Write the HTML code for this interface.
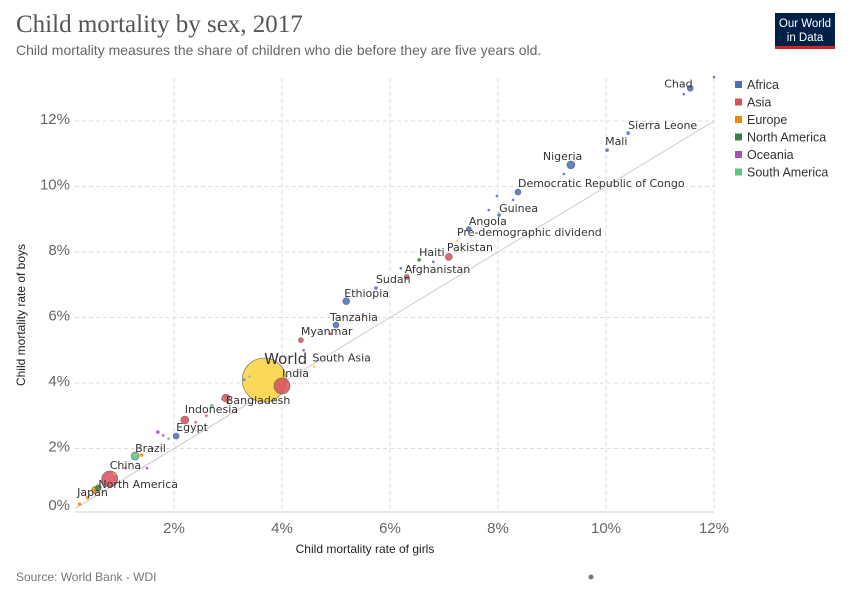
<!DOCTYPE html>
<html><head><meta charset="utf-8"><style>
body{margin:0;background:#fff;width:850px;height:600px;overflow:hidden;font-family:"Liberation Sans",sans-serif}
svg text{font-family:"Liberation Sans",sans-serif}
</style></head><body>
<svg id="c" width="850" height="600">
<text x="16" y="32" font-size="25" fill="#555" style="font-family:'Liberation Serif',serif">Child mortality by sex, 2017</text>
<text x="16" y="55" font-size="14" fill="#666">Child mortality measures the share of children who die before they are five years old.</text>
<g><rect x="775" y="13" width="60" height="36" fill="#002147"/><rect x="775" y="46" width="60" height="3" fill="#ce261e"/>
<text x="805" y="27" font-size="11.5" fill="#fff" text-anchor="middle">Our World</text><text x="805" y="41" font-size="11.5" fill="#fff" text-anchor="middle">in Data</text></g>
<g id="grid"></g><g id="marks"></g><g id="labels"></g>
<text x="365" y="553" font-size="12" fill="#222" text-anchor="middle">Child mortality rate of girls</text>
<text transform="translate(25,315) rotate(-90)" font-size="12" fill="#222" text-anchor="middle">Child mortality rate of boys</text>
<g id="legend"></g>
<text x="16" y="581" font-size="12" fill="#777">Source: World Bank - WDI</text>
<circle cx="591" cy="577" r="2.5" fill="#777"/>
</svg>
<script>
const xTicks=[2,4,6,8,10,12];
const yTicks=[0,2,4,6,8,10,12];
const regions=["Africa","Asia","Europe","North America","Oceania","South America"];
const regionColors=["#4c6cbf","#d64f5d","#ed8c00","#3e7d43","#a652ba","#5ec57e","#fcd23c"];
const names=["Chad","","","Sierra Leone","Mali","Nigeria","","Democratic Republic of Congo","","","Guinea","","Angola","Pre-demographic dividend","Pakistan","Haiti","Afghanistan","Sudan","Ethiopia","Tanzania","Myanmar","South Asia","World","India","Bangladesh","Indonesia","Egypt","Brazil","China","North America","Japan","","","","","","","","","","","","","","","","","","","","","",""];
const girls=[11.56,12.0,11.44,10.41,10.02,9.35,9.22,8.37,7.98,7.83,8.02,8.28,7.46,7.24,7.09,6.54,6.31,5.74,5.19,5.0,4.35,4.6,3.67,4.0,2.96,2.2,2.04,1.28,0.81,0.6,0.54,6.2,6.8,5.5,4.9,4.4,3.3,3.4,2.7,2.6,2.4,1.8,1.7,1.9,1.4,1.6,0.9,0.4,0.25,1.1,2.9,1.5,3.0];
const boys=[13.0,13.34,12.82,11.63,11.11,10.66,10.38,9.83,9.71,9.28,9.13,9.59,8.70,8.34,7.85,7.76,7.24,6.9,6.5,5.77,5.31,4.5,4.09,3.91,3.54,2.87,2.38,1.77,1.07,0.8,0.73,7.5,7.7,6.1,5.5,5.0,4.1,4.2,3.3,3.0,2.8,2.4,2.5,2.3,1.8,2.0,1.25,0.5,0.3,1.4,3.5,1.4,3.4];
const sizes=[3,1.5,1.5,2,2,4,1.5,3,1.5,1.5,2,1.5,2.5,1.5,3.5,2,2.5,2,3.5,3,2.5,1.5,22,8,4,4,3,4,8,3,3.5,1.5,1.5,1.5,1.5,1.5,1.5,1.5,2,1.5,1.5,1.5,2,1.5,2,1.5,1.5,2,2,1.5,1.5,1.5,1.5];
const regionIdx=[0,0,0,0,0,0,0,0,0,0,0,0,0,6,1,3,1,0,0,0,1,6,6,1,1,1,0,5,1,3,2,0,0,4,1,0,0,5,5,1,1,1,4,5,2,1,2,2,2,1,4,4,1];
const labelDx=[-26,0,0,0,-2,-28,0,0,0,0,0,0,0,0,-2,0,-2,0,-2,-6,0,-2,0,0,0,0,0,0,0,0,-18];
const labelDy=[-1,0,0,-4,-5,-5,0,-5,0,0,-3,0,-4,-5,-6,-4,-4,-5,-4,-4,-5,-5,-16,-9,6,-7,-5,-4,-10,0,6];
const X=v=>66+54*v, Y=v=>514-32.75*v;
const NS="http://www.w3.org/2000/svg";
function mk(t,p,a){const e=document.createElementNS(NS,t);for(const k in a)e.setAttribute(k,a[k]);p.appendChild(e);return e;}
const grid=document.getElementById('grid');
yTicks.forEach(v=>{
 if(v>0){const l=mk('line',grid,{x1:75,x2:714,y1:Y(v),y2:Y(v),stroke:'#ddd','stroke-dasharray':'4,3'});
 
 }
 const t=mk('text',grid,{x:70,y:Y(v)+3-(v==0?7:0),'font-size':15,fill:'#666','text-anchor':'end'});t.textContent=v+'%';
 
 
});
xTicks.forEach(v=>{
 const l=mk('line',grid,{x1:X(v),x2:X(v),y1:78,y2:512,stroke:'#ddd','stroke-dasharray':'4,3'});
 
 
 const t=mk('text',grid,{x:X(v),y:533,'font-size':15,fill:'#666','text-anchor':'middle'});t.textContent=v+'%';
 
 
});
const ax=mk('line',grid,{x1:75,x2:714,y1:512,y2:512,stroke:'#ccc'});


const dg=mk('line',grid,{x1:X(0.17),y1:Y(0.17),x2:X(12),y2:Y(12),stroke:'#ccc'});


const marks=document.getElementById('marks'),labels=document.getElementById('labels');
const order=girls.map((_,i)=>i).sort((a,b)=>sizes[b]-sizes[a]);
order.forEach(i=>{
 const c=mk('circle',marks,{cx:X(girls[i]),cy:Y(boys[i]),r:sizes[i],fill:regionColors[regionIdx[i]],stroke:sizes[i]>2?'#555':'#fff','stroke-width':sizes[i]>2?0.6:0.3,opacity:0.85});
 
 
});
names.forEach((n,i)=>{ if(!n)return;
 const t=mk('text',labels,{x:X(girls[i])+(labelDx[i]||0),y:Y(boys[i])+(labelDy[i]||0),'font-size':n=='World'?15:11,fill:'#333',style:'font-family:"DejaVu Sans",sans-serif'});
 t.textContent=n;
 
 
});
const lg=document.getElementById('legend');
regions.forEach((r,i)=>{
 const s=mk('rect',lg,{x:735,y:81+i*17.5,width:7,height:7,fill:regionColors[i]});
 
 
 const t=mk('text',lg,{x:747,y:89+i*17.5,'font-size':12.5,fill:'#333'});t.textContent=r;
 
 
});
</script>
</body></html>
